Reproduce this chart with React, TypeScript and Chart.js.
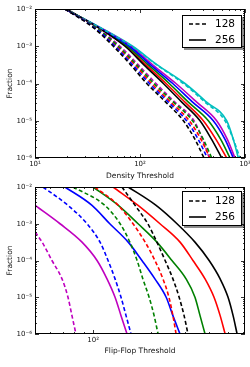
import React, { useEffect, useRef } from 'react';
import { Chart, registerables } from 'chart.js';

Chart.register(...registerables);

// ---------- data ----------
const fractionLevels = [1e-2, 3.16e-3, 1e-3, 3.16e-4, 1e-4, 3.16e-5, 1e-5, 3.16e-6, 1e-6];
const seriesColors = ['#000000', '#0000ff', '#008000', '#ff0000', '#bf00bf', '#00bfbf'];
const legendLabels = ['128', '256'];

// Top panel: density threshold reached at each fraction level (rows: black, blue, green, red, magenta, cyan)
const density128 = [
  [19.3, 35.9, 55.7, 81.5, 116, 176, 259, 334, 407],
  [19.3, 36.7, 57.8, 85.1, 123, 186, 278, 359, 438],
  [19.3, 38.1, 62.2, 92.9, 136, 208, 317, 401, 482],
  [19.3, 37.3, 60.0, 89.6, 129, 196, 295, 381, 464],
  [19.3, 38.7, 64.5, 96.4, 142, 215, 327, 395, 457],
  [19.3, 41.6, 83.3, 144, 259, 416, 645, 774, 896],
];
const density256 = [
  [20.0, 40.1, 72.0, 109, 167, 250, 373, 481, 600],
  [19.3, 41.0, 79.1, 126, 205, 317, 499, 645, 774],
  [19.3, 40.7, 75.7, 120, 190, 289, 448, 587, 720],
  [19.3, 40.1, 73.6, 114, 177, 268, 401, 529, 669],
  [19.3, 41.6, 81.5, 132, 220, 347, 537, 679, 803],
  [19.3, 42.2, 85.1, 146, 268, 431, 669, 774, 864],
];

// Bottom panel: flip-flop threshold at each fraction level (rows: black, blue, green, red)
const flipFlop128 = [
  [141, 165, 192, 214, 236, 259, 279, 296, 310],
  [55.0, 74.1, 93.0, 108.6, 119.5, 129.9, 139.5, 148.1, 157.2],
  [78.7, 115, 138, 155, 169, 181, 195, 207, 217],
  [102, 135, 161, 186, 209, 230, 247, 259, 269],
];
const flipFlop256 = [
  [152, 212, 272, 337, 399, 455, 500, 531, 557],
  [71.5, 98.7, 122, 152, 179, 209, 239, 259, 282],
  [99.9, 135, 171, 214, 256, 303, 337, 358, 380],
  [127, 171, 222, 282, 329, 380, 423, 455, 483],
];
// magenta curves of the bottom panel start below 1e-2
const flipFlopMagenta128Threshold = [48, 50, 54.4, 61.2, 69.0, 74.1, 77.7, 81.5];
const flipFlopMagenta128Fraction = [8.2e-4, 6.0e-4, 3.16e-4, 1e-4, 3.16e-5, 1e-5, 3.16e-6, 1e-6];
const flipFlopMagenta256Threshold = [47, 50, 67.4, 87.6, 104.8, 118.0, 129.9, 139.5, 149.9];
const flipFlopMagenta256Fraction = [4.1e-3, 3.2e-3, 1e-3, 3.16e-4, 1e-4, 3.16e-5, 1e-5, 3.16e-6, 1e-6];

const densityRange = [10, 1000];
const flipFlopRange = [50, 612];
const fractionRange = [1e-6, 1e-2];

const densityXTickValues = [10, 100, 1000];
const densityXTickLabels = ['10¹', '10²', '10³'];
const flipFlopXTickValues = [100];
const flipFlopXTickLabels = ['10²'];
const fractionTickValues = [1e-6, 1e-5, 1e-4, 1e-3, 1e-2];
const fractionTickLabels = ['10⁻⁶', '10⁻⁵', '10⁻⁴', '10⁻³', '10⁻²'];

// ---------- styling / plugins ----------
const FONT = '"DejaVu Sans", "Liberation Sans", sans-serif';
const DASH = [4, 2.5];

function lineDataset(xs: number[], ys: number[], color: string, dashed: boolean) {
  return {
    data: xs.map((x, i) => ({ x, y: ys[i] })),
    borderColor: color,
    backgroundColor: color,
    borderWidth: 1.6,
    borderDash: dashed ? DASH : [],
    pointRadius: 0,
    fill: false,
    cubicInterpolationMode: 'monotone',
    clip: 0,
  };
}

const frameAndTicks = {
  id: 'frameAndTicks',
  afterDatasetsDraw(chart: any) {
    const { ctx, chartArea, scales } = chart;
    const { left, right, top, bottom } = chartArea;
    const xs = scales.x;
    const ys = scales.y;
    const marks = (min: number, max: number) => {
      const out: { v: number; major: boolean }[] = [];
      for (let e = Math.floor(Math.log10(min)); e <= Math.ceil(Math.log10(max)); e++) {
        for (let m = 1; m <= 9; m++) {
          const v = m * Math.pow(10, e);
          if (v >= min * 0.9999 && v <= max * 1.0001) out.push({ v, major: m === 1 });
        }
      }
      return out;
    };
    ctx.save();
    ctx.setLineDash([]);
    ctx.strokeStyle = '#000';
    ctx.lineWidth = 0.8;
    ctx.beginPath();
    marks(xs.min, xs.max).forEach(({ v, major }) => {
      const px = Math.round(xs.getPixelForValue(v)) + 0.5;
      const len = major ? 4 : 2;
      ctx.moveTo(px, bottom);
      ctx.lineTo(px, bottom - len);
      ctx.moveTo(px, top);
      ctx.lineTo(px, top + len);
    });
    marks(ys.min, ys.max).forEach(({ v, major }) => {
      const py = Math.round(ys.getPixelForValue(v)) + 0.5;
      const len = major ? 4 : 2;
      ctx.moveTo(left, py);
      ctx.lineTo(left + len, py);
      ctx.moveTo(right, py);
      ctx.lineTo(right - len, py);
    });
    ctx.stroke();
    ctx.lineWidth = 1;
    ctx.strokeRect(left + 0.5, top + 0.5, right - left - 1, bottom - top - 1);
    ctx.restore();
  },
};

const lineLegend = {
  id: 'lineLegend',
  afterDraw(chart: any, _args: any, opts: any) {
    const { ctx, chartArea } = chart;
    const w = 60;
    const h = opts.boxHeight;
    const bx = chartArea.right - 63;
    const by = chartArea.top + opts.boxTop;
    ctx.save();
    ctx.setLineDash([]);
    ctx.fillStyle = 'rgba(0,0,0,0.45)';
    ctx.fillRect(bx + 2, by + 2, w, h);
    ctx.fillStyle = '#ffffff';
    ctx.fillRect(bx, by, w, h);
    ctx.strokeStyle = '#000';
    ctx.lineWidth = 1;
    ctx.strokeRect(bx + 0.5, by + 0.5, w - 1, h - 1);
    legendLabels.forEach((label, i) => {
      const yy = by + opts.rows[i];
      ctx.beginPath();
      ctx.setLineDash(i === 0 ? DASH : []);
      ctx.lineWidth = 1.6;
      ctx.strokeStyle = '#000';
      ctx.moveTo(bx + 7, yy);
      ctx.lineTo(bx + 24, yy);
      ctx.stroke();
      ctx.setLineDash([]);
      ctx.fillStyle = '#000';
      ctx.font = `10.5px ${FONT}`;
      ctx.textAlign = 'left';
      ctx.textBaseline = 'middle';
      ctx.fillText(label, bx + 33, yy);
    });
    ctx.restore();
  },
};

function logAxis(
  range: number[],
  tickValues: number[],
  tickLabels: string[],
  title: string,
  horizontal: boolean,
  size: number
) {
  return {
    type: 'logarithmic',
    min: range[0],
    max: range[1],
    grid: { display: false, drawTicks: false, tickLength: 0 },
    border: { display: false },
    ticks: {
      autoSkip: false,
      maxRotation: 0,
      minRotation: 0,
      padding: horizontal ? 2 : 3,
      color: '#111',
      font: { family: FONT, size: 7 },
      callback: (_v: any, index: number) => tickLabels[index],
    },
    title: {
      display: true,
      text: title,
      color: '#111',
      font: { family: FONT, size: 7.5 },
      padding: horizontal ? { top: 4, bottom: 4 } : { top: 5.5, bottom: 4 },
    },
    afterBuildTicks: (scale: any) => {
      scale.ticks = tickValues.map((value) => ({ value }));
    },
    afterFit: (scale: any) => {
      if (horizontal) {
        scale.height = size;
        scale.paddingLeft = 0;
        scale.paddingRight = 0;
      } else {
        scale.width = size;
        scale.paddingTop = 0;
        scale.paddingBottom = 0;
      }
    },
  };
}

function buildConfig(
  datasets: any[],
  xRange: number[],
  xTickValues: number[],
  xTickLabels: string[],
  xTitle: string,
  padding: any,
  xHeight: number,
  legendOpts: any
): any {
  return {
    type: 'line',
    data: { datasets },
    options: {
      animation: false,
      responsive: false,
      devicePixelRatio: 1,
      events: [],
      parsing: true,
      layout: { padding },
      plugins: {
        legend: { display: false },
        tooltip: { enabled: false },
        lineLegend: legendOpts,
      },
      scales: {
        x: logAxis(xRange, xTickValues, xTickLabels, xTitle, true, xHeight),
        y: logAxis(fractionRange, fractionTickValues, fractionTickLabels, 'Fraction', false, 35),
      },
    },
    plugins: [frameAndTicks, lineLegend],
  };
}

function densityConfig() {
  const datasets: any[] = [];
  density128.forEach((row, i) => datasets.push(lineDataset(row, fractionLevels, seriesColors[i], true)));
  density256.forEach((row, i) => datasets.push(lineDataset(row, fractionLevels, seriesColors[i], false)));
  return buildConfig(
    datasets,
    densityRange,
    densityXTickValues,
    densityXTickLabels,
    'Density Threshold',
    { top: 9, right: 5, bottom: 0, left: 0 },
    27,
    { boxTop: 6, boxHeight: 33, rows: [9, 25] }
  );
}

function flipFlopConfig() {
  const datasets: any[] = [];
  flipFlop128.forEach((row, i) => datasets.push(lineDataset(row, fractionLevels, seriesColors[i], true)));
  datasets.push(lineDataset(flipFlopMagenta128Threshold, flipFlopMagenta128Fraction, seriesColors[4], true));
  flipFlop256.forEach((row, i) => datasets.push(lineDataset(row, fractionLevels, seriesColors[i], false)));
  datasets.push(lineDataset(flipFlopMagenta256Threshold, flipFlopMagenta256Fraction, seriesColors[4], false));
  return buildConfig(
    datasets,
    flipFlopRange,
    flipFlopXTickValues,
    flipFlopXTickLabels,
    'Flip-Flop Threshold',
    { top: 9, right: 5, bottom: 7, left: 0 },
    26,
    { boxTop: 4, boxHeight: 35, rows: [10, 26] }
  );
}

function ChartCanvas({ make, top, width, height }: { make: () => any; top: number; width: number; height: number }) {
  const ref = useRef<HTMLCanvasElement | null>(null);
  useEffect(() => {
    if (!ref.current) return;
    const chart = new Chart(ref.current, make());
    return () => chart.destroy();
  }, [make]);
  return (
    <canvas
      ref={ref}
      width={width}
      height={height}
      style={{ position: 'absolute', left: 0, top, width, height, display: 'block' }}
    />
  );
}

export default function App() {
  return (
    <div
      style={{
        position: 'fixed',
        left: 0,
        top: 0,
        width: 250,
        height: 367,
        background: '#ffffff',
        overflow: 'hidden',
      }}
    >
      <ChartCanvas make={densityConfig} top={0} width={250} height={185} />
      <ChartCanvas make={flipFlopConfig} top={178} width={250} height={189} />
    </div>
  );
}
